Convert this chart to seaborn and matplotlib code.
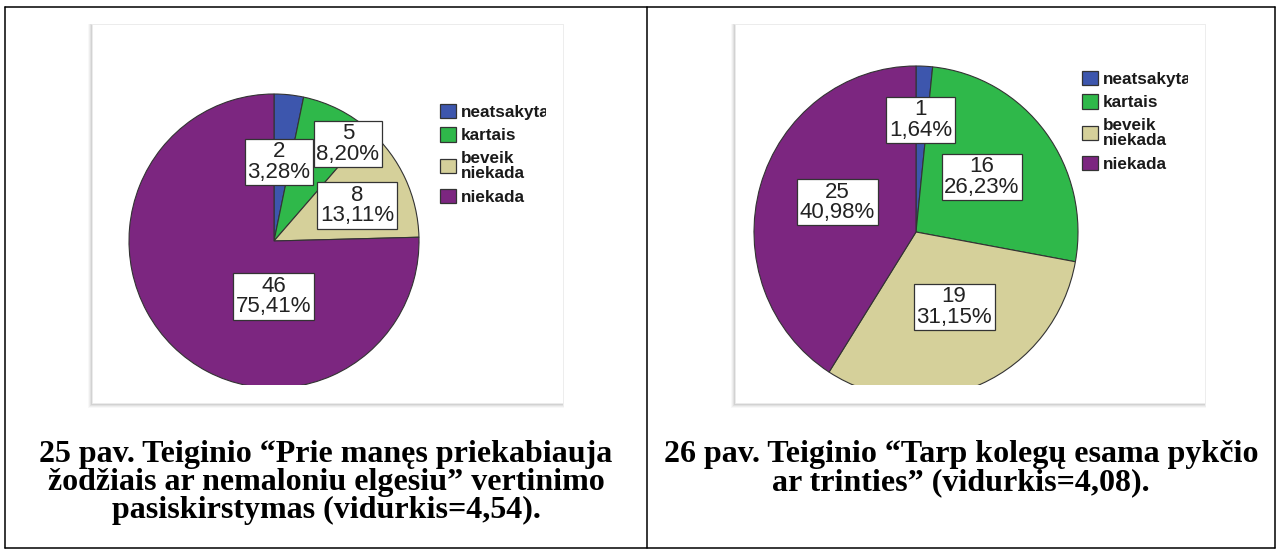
import matplotlib
matplotlib.use("Agg")
import matplotlib.pyplot as plt
import seaborn as sns
from matplotlib.patches import Rectangle
from matplotlib.lines import Line2D
from matplotlib.transforms import Bbox, TransformedBbox

# duomenys
categories = ["neatsakyta", "kartais", "beveik\nniekada", "niekada"]
counts_25 = [2, 5, 8, 46]
counts_26 = [1, 16, 19, 25]
colors = ["#3d56ad", "#2fb84a", "#d5d09a", "#7c2680"]

caption_25 = ("25 pav. Teiginio \u201cPrie manęs priekabiauja\n"
              "žodžiais ar nemaloniu elgesiu\u201d vertinimo\n"
              "pasiskirstymas (vidurkis=4,54).")
caption_26 = ("26 pav. Teiginio \u201cTarp kolegų esama pykčio\n"
              "ar trinties\u201d (vidurkis=4,08).")

# label box centres inside each pie, in radius units (placed like SPSS did)
label_pos_25 = [(0.034, 0.538), (0.51, 0.66), (0.572, 0.24), (-0.003, -0.377)]
label_pos_26 = [(0.028, 0.675), (0.407, 0.331), (0.235, -0.452), (-0.485, 0.18)]

W, H = 1281, 553

sns.set_theme(style="white")
plt.rcParams['font.family'] = ['Liberation Sans', 'DejaVu Sans']

fig = plt.figure(figsize=(W / 100, H / 100), dpi=100)
fig.patch.set_facecolor('white')


def fx(x):
    return x / W


def fy(y):
    return 1 - y / H


def px_axes(x0, y0, x1, y1):
    return fig.add_axes([fx(x0), fy(y1), (x1 - x0) / W, (y1 - y0) / H])


def chart_box(x0, y0, x1, y1):
    # soft shadow round the pasted SPSS picture
    for grow, a in [(4, 0.05), (3, 0.07), (2, 0.10), (1, 0.14)]:
        fig.add_artist(Rectangle((fx(x0 - grow), fy(y1 + grow + 1)),
                                 (x1 - x0 + grow * 1.2) / W, (y1 - y0 + grow * 1.3) / H,
                                 transform=fig.transFigure, fc='#777777', ec='none',
                                 alpha=a, zorder=-5))
    fig.add_artist(Rectangle((fx(x0), fy(y1)), (x1 - x0) / W, (y1 - y0) / H,
                             transform=fig.transFigure, fc='white', ec='#ececec', lw=0.6,
                             zorder=-4))


def draw_pie(counts, cx, cy, rx, ry, clip_y, label_pos):
    m = 4
    ax = px_axes(cx - rx - m, cy - ry - m, cx + rx + m, clip_y)
    wedges, _ = ax.pie(counts, colors=colors, startangle=90, counterclock=False,
                       wedgeprops=dict(edgecolor='#333333', linewidth=0.8))
    for w in wedges:
        w.set_clip_on(True)   # SPSS picture cuts the bottom of the pie
    ax.set_aspect('auto')
    ax.set_xlim(-(rx + m) / rx, (rx + m) / rx)
    ax.set_ylim(-(clip_y - cy) / ry, (ry + m) / ry)
    ax.axis('off')
    total = sum(counts)
    for n, (lx, ly) in zip(counts, label_pos):
        pct = f"{100 * n / total:.2f}".replace('.', ',')
        ax.text(lx, ly, f"{n}\n{pct}%", ha='center', va='center', fontsize=16,
                linespacing=0.95, color='#222222',
                bbox=dict(boxstyle='square,pad=0.12', fc='white', ec='#333333', lw=0.9))
    return ax


def draw_legend(x, y, clip_x):
    handles = [Rectangle((0, 0), 1, 1, fc=c, ec='#333333', lw=0.9) for c in colors]
    leg = fig.legend(handles, categories, loc='upper left',
                     bbox_to_anchor=(fx(x), fy(y)), frameon=False,
                     borderpad=0, borderaxespad=0, handlelength=0.92,
                     handleheight=0.92, handletextpad=0.3, labelspacing=0.42,
                     prop=dict(family='Liberation Sans', weight='bold', size=12.3))
    clip = TransformedBbox(Bbox.from_extents(fx(x), fy(y + 120), fx(clip_x), fy(y - 20)),
                           fig.transFigure)
    for t in leg.get_texts():
        t.set_linespacing(1.08)
        t.set_color('#1a1a1a')
        t.set_clip_box(clip)
        t.set_clip_on(True)
    return leg


# lentelės rėmai
for (x0, y0, x1, y1) in [(5, 7, 1275, 7), (5, 548, 1275, 548),
                         (5, 7, 5, 548), (647, 7, 647, 548), (1275, 7, 1275, 548)]:
    fig.add_artist(Line2D([fx(x0), fx(x1)], [fy(y0), fy(y1)], color='black', lw=1.1,
                          transform=fig.transFigure))

# 25 pav.
chart_box(92, 24, 563, 403)
draw_pie(counts_25, 274, 241, 145, 147, 385, label_pos_25)
draw_legend(440, 104, 546)

# 26 pav.
chart_box(735, 24, 1205, 403)
draw_pie(counts_26, 916, 232, 162, 166, 385, label_pos_26)
draw_legend(1082, 71, 1188)

cap_font = dict(family='Liberation Serif', weight='bold', size=23)
fig.text(fx(326), fy(440), caption_25, ha='center', va='top', linespacing=0.95,
         color='black', **cap_font)
fig.text(fx(961), fy(440), caption_26, ha='center', va='top', linespacing=0.95,
         color='black', **cap_font)

fig.savefig('out.png', dpi=100, facecolor='white')
